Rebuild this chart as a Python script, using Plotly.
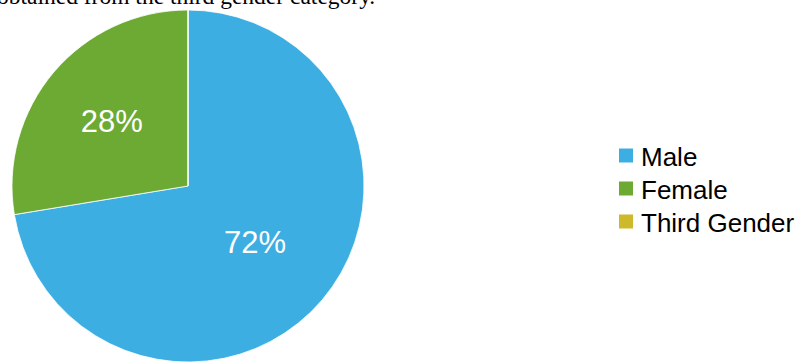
import plotly.graph_objects as go

categories = ["Male", "Female", "Third Gender"]
values = [72.4, 27.6, 0]
labels_text = ["72%", "28%", ""]
colors = ["#3DAEE2", "#6CAA34", "#CDB92A"]
caption = "obtained from the third gender category."

W, H = 796, 362
cx, top, diam = 188, 10, 352

fig = go.Figure(go.Pie(
    labels=categories,
    values=values,
    text=labels_text,
    texttemplate="%{text}",
    textposition="inside",
    insidetextorientation="horizontal",
    textfont=dict(family="Liberation Sans", size=31, color="white"),
    marker=dict(colors=colors, line=dict(color="white", width=0.8)),
    sort=False,
    direction="clockwise",
    rotation=0,
    hoverinfo="label+percent",
    domain=dict(x=[(cx - diam / 2) / W, (cx + diam / 2) / W],
                y=[0, (H - top) / H]),
    showlegend=False,
))

fig.add_annotation(
    text=caption, xref="paper", yref="paper",
    x=-5 / W, y=(H - 11) / H, xanchor="left", yanchor="bottom",
    showarrow=False,
    font=dict(family="Liberation Serif", size=23.5, color="black"),
)

# Legend (drawn as squares + text, positioned in paper coordinates)
leg_x0, leg_y0, leg_dy, sq = 619, 155.5, 33, 14
for i, (name, col) in enumerate(zip(categories, colors)):
    yc = leg_y0 + i * leg_dy
    fig.add_shape(
        type="rect", xref="paper", yref="paper",
        x0=leg_x0 / W, x1=(leg_x0 + sq) / W,
        y0=(H - (yc + sq / 2)) / H, y1=(H - (yc - sq / 2)) / H,
        fillcolor=col, line=dict(width=0),
    )
    fig.add_annotation(
        text=name, xref="paper", yref="paper",
        x=(leg_x0 + sq + 6) / W, y=(H - (yc + 1.5)) / H,
        xanchor="left", yanchor="middle", showarrow=False,
        font=dict(family="Liberation Sans", size=26, color="black"),
    )

fig.update_layout(
    width=W, height=H,
    margin=dict(l=0, r=0, t=0, b=0),
    paper_bgcolor="white",
    plot_bgcolor="white",
)

fig.write_html("out.html")
